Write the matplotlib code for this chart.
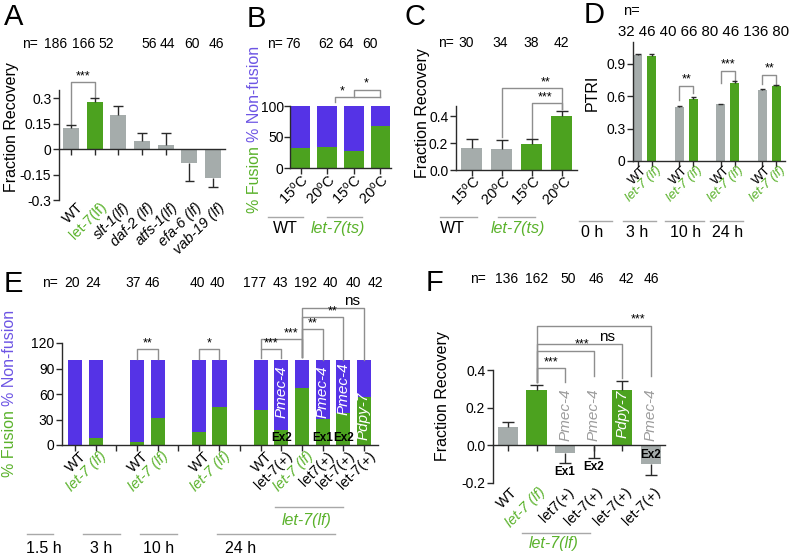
import matplotlib
matplotlib.use('Agg')
import matplotlib.pyplot as plt
import matplotlib.transforms as mtransforms
from matplotlib.lines import Line2D

plt.rcParams['font.family'] = ['Liberation Sans', 'DejaVu Sans']
plt.rcParams['mathtext.fontset'] = 'custom'
plt.rcParams['mathtext.rm'] = 'Liberation Sans'
plt.rcParams['mathtext.it'] = 'Liberation Sans:italic'
plt.rcParams['font.size'] = 10

# ---------------- datos ----------------
# A: Fraction Recovery
a_labels = ['WT', 'let-7(lf)', 'slt-1(lf)', 'daf-2 (lf)', 'atfs-1(lf)', 'efa-6 (lf)', 'vab-19 (lf)']
a_vals = [0.125, 0.28, 0.20, 0.05, 0.025, -0.08, -0.17]
a_err = [0.017, 0.02, 0.055, 0.045, 0.07, 0.11, 0.055]
a_n = [186, 166, 52, 56, 44, 60, 46]

# B: % fusion (let-7(ts))
b_labels = [r'15$^{\rm o}$C', r'20$^{\rm o}$C', r'15$^{\rm o}$C', r'20$^{\rm o}$C']
b_fusion = [32, 34, 28, 68]
b_n = [76, 62, 64, 60]

# C: Fraction Recovery (let-7(ts))
c_labels = b_labels
c_vals = [0.16, 0.155, 0.19, 0.40]
c_err = [0.07, 0.065, 0.04, 0.035]
c_n = [30, 34, 38, 42]

# D: PTRI
d_labels = ['WT', 'let-7 (lf)'] * 4
d_vals = [0.98, 0.97, 0.50, 0.575, 0.525, 0.72, 0.655, 0.69]
d_err = [0.01, 0.015, 0.01, 0.015, 0.006, 0.015, 0.01, 0.012]
d_n = [32, 46, 40, 66, 80, 46, 136, 80]
d_times = ['0 h', '3 h', '10 h', '24 h']

# E: % fusion
e_labels = ['WT', 'let-7 (lf)', 'WT', 'let-7 (lf)', 'WT', 'let-7 (lf)',
            'WT', 'let-7(+)', 'let-7 (lf)', 'let7(+)', 'let-7(+)', 'let-7(+)']
e_fusion = [0, 8, 3.5, 32, 15, 45, 41, 17.5, 67, 30.5, 37.5, 56]
e_n = [20, 24, 37, 46, 40, 40, 177, 43, 192, 40, 40, 42]
e_times = ['1.5 h', '3 h', '10 h', '24 h']

# F: Fraction Recovery
f_labels = ['WT', 'let-7 (lf)', 'let7(+)', 'let-7(+)', 'let-7(+)', 'let-7(+)']
f_vals = [0.10, 0.295, -0.04, -0.003, 0.295, -0.10]
f_err = [0.025, 0.025, 0.055, 0.062, 0.045, 0.06]
f_n = [136, 162, 50, 46, 42, 46]

# ---------------- estilo ----------------
GREEN = '#4ca21f'
GREEN_TXT = '#5ab22b'
PURPLE = '#5533e6'
PURPLE_TXT = '#6d55e4'
GRAY = '#a5acab'
BRK = '#8e8e8e'
LGRAY = '#a8a8a8'
DARK = '#2a2a2a'

W, H = 800, 557
fig = plt.figure(figsize=(8, 5.57), dpi=100)


def px_axes(l, t, r, b):
    return fig.add_axes([l / W, 1 - b / H, (r - l) / W, (b - t) / H])


def ftext(x, y, s, **kw):
    return fig.text(x / W, 1 - y / H, s, **kw)


def fline(x0, x1, y, color=LGRAY):
    fig.add_artist(Line2D([x0 / W, x1 / W], [1 - y / H] * 2,
                          transform=fig.transFigure, color=color, lw=1))


def base_axes(ax, xlim, ylim, zero=False, pad=1.5):
    ax.set_xlim(*xlim)
    ax.set_ylim(*ylim)
    ax.spines['top'].set_visible(False)
    ax.spines['right'].set_visible(False)
    for s in ('left', 'bottom'):
        ax.spines[s].set_color(DARK)
        ax.spines[s].set_linewidth(1)
    if zero:
        ax.spines['bottom'].set_position(('data', 0))
    ax.tick_params(length=4, width=1, color=DARK, pad=pad, labelsize=10)
    ax.tick_params(axis='x', labelbottom=False)
    ax.patch.set_alpha(0)


def bars_err(ax, xs, vals, errs, colors, width):
    ax.bar(xs, vals, width=width, color=colors, zorder=2)
    ends = [v + e if v >= 0 else v - e for v, e in zip(vals, errs)]
    cw = width * 0.3
    ax.vlines(xs, vals, ends, color=DARK, lw=1, zorder=3)
    ax.hlines(ends, [x - cw for x in xs], [x + cw for x in xs], color=DARK, lw=1, zorder=3)


def stacked(ax, xs, fusion, width):
    ax.bar(xs, fusion, width=width, color=GREEN, zorder=2)
    ax.bar(xs, [100 - f for f in fusion], width=width, bottom=fusion, color=PURPLE, zorder=2)


def rot_labels(ax, xs, labels, colors, styles, fs=10.5, dx=2, dy=3):
    base = mtransforms.blended_transform_factory(ax.transData, ax.transAxes)
    tr = mtransforms.offset_copy(base, fig=fig, x=dx, y=-dy, units='dots')
    for x, s, c, st in zip(xs, labels, colors, styles):
        ax.text(x, 0, s, transform=tr, rotation=45, rotation_mode='anchor',
                ha='right', va='top', color=c, style=st, fontsize=fs, clip_on=False)


def bracket(ax, x1, x2, ytop, yl, yr, label, lx=None, fs=9):
    ax.plot([x1, x1, x2, x2], [yl, ytop, ytop, yr], color=BRK, lw=1, clip_on=False)
    if lx is None:
        lx = (x1 + x2) / 2
    ax.text(lx, ytop, label, ha='center', va='bottom', fontsize=fs, clip_on=False)


def two_color_ylabel(x, y_start, fs=11.5):
    r = fig.canvas.get_renderer()
    t1 = ftext(x, y_start, '% Fusion', rotation=90, ha='center', va='bottom',
               color=GREEN_TXT, fontsize=fs)
    bb = t1.get_window_extent(r)
    fig.text(x / W, (bb.y1 + 4) / H, '% Non-fusion', rotation=90, ha='center',
             va='bottom', color=PURPLE_TXT, fontsize=fs)


def n_row(x_n, y, xs, ns, fs=10):
    ftext(x_n, y, 'n=', ha='left', va='baseline', fontsize=fs)
    for x, n in zip(xs, ns):
        ftext(x, y, str(n), ha='center', va='baseline', fontsize=fs)


EX_FONT = dict(fontsize=8.5, fontweight='bold', color='black')

PANEL_FS = 21
for lab, x, y in [('A', 4, 25), ('B', 247, 27), ('C', 404, 25), ('D', 584, 23),
                  ('E', 4, 292), ('F', 426, 291)]:
    ftext(x, y, lab, ha='left', va='baseline', fontsize=PANEL_FS)

# ---------------- A ----------------
ax = px_axes(59, 90, 225, 200)
xa = list(range(len(a_vals)))
base_axes(ax, (-0.5, 6.5), (-0.3, 0.35), zero=True)
bars_err(ax, xa, a_vals, a_err, [GREEN if i == 1 else GRAY for i in xa], 0.68)
ax.set_xticks(xa)
ax.set_yticks([-0.3, -0.15, 0, 0.15, 0.3])
ax.set_yticklabels(['-0.3', '-0.15', '0', '0.15', '0.3'])
rot_labels(ax, xa, a_labels, ['black', GREEN_TXT] + ['black'] * 5,
           ['normal', 'normal'] + ['italic'] * 5, dx=5, dy=0)
bracket(ax, 0, 1, 0.395, 0.145, 0.31, '***')
ftext(12, 127, 'Fraction Recovery', rotation=90, ha='center', va='center', fontsize=11.5)
n_row(22, 48, [56, 84, 106, 149, 167, 192, 216], a_n)

# ---------------- B ----------------
ax = px_axes(290, 106, 391, 168)
xb = list(range(len(b_fusion)))
base_axes(ax, (-0.4, 3.4), (0, 100), pad=0.5)
stacked(ax, xb, b_fusion, 0.74)
ax.set_xticks(xb)
ax.set_yticks([0, 50, 100])
rot_labels(ax, xb, b_labels, ['black'] * 4, ['normal'] * 4, dx=0, dy=4)
bracket(ax, 1.3, 3, 114.5, 106, 114.5, '*', lx=1.58)
bracket(ax, 2, 3, 126, 114.5, 114.5, '*', lx=2.48)
two_color_ylabel(255, 213)
n_row(267, 48, [293, 326, 346, 370], b_n)
fline(268, 303, 217)
fline(327, 362, 217)
ftext(285, 233, 'WT', ha='center', va='baseline', fontsize=11.5)
ftext(338, 233, 'let-7(ts)', ha='center', va='baseline', fontsize=11.5,
      color=GREEN_TXT, style='italic')

# ---------------- C ----------------
ax = px_axes(456, 106, 577, 170)
xc = list(range(len(c_vals)))
base_axes(ax, (-0.53, 3.5), (0, 0.475))
bars_err(ax, xc, c_vals, c_err, [GRAY, GRAY, GREEN, GREEN], 0.7)
ax.set_xticks(xc)
ax.set_yticks([0, 0.2, 0.4])
ax.set_yticklabels(['0.0', '0.2', '0.4'])
rot_labels(ax, xc, c_labels, ['black'] * 4, ['normal'] * 4, dx=1, dy=3)
bracket(ax, 1, 3, 0.607, 0.244, 0.45, '**', lx=2.45)
bracket(ax, 2, 3, 0.496, 0.24, 0.45, '***', lx=2.45)
ftext(422, 113, 'Fraction Recovery', rotation=90, ha='center', va='center', fontsize=11.5)
n_row(438, 47, [466, 500, 531, 561], c_n)
fline(440, 477, 217)
fline(498, 535, 217)
ftext(452, 233, 'WT', ha='center', va='baseline', fontsize=11.5)
ftext(518, 233, 'let-7(ts)', ha='center', va='baseline', fontsize=11.5,
      color=GREEN_TXT, style='italic')

# ---------------- D ----------------
ax = px_axes(633, 42, 785, 161)
xd = [0, 1, 3, 4, 6, 7, 9, 10]
base_axes(ax, (-0.36, 10.65), (0, 1.1))
bars_err(ax, xd, d_vals, d_err, [GRAY, GREEN] * 4, 0.65)
ax.set_xticks(xd)
ax.set_yticks([0, 0.3, 0.6, 0.9])
ax.set_yticklabels(['0', '0.3', '0.6', '0.9'])
rot_labels(ax, xd, d_labels, ['black', GREEN_TXT] * 4, ['normal', 'italic'] * 4,
           fs=9.5, dx=3, dy=3)
bracket(ax, 3, 4, 0.697, 0.56, 0.624, '**')
bracket(ax, 6, 7, 0.835, 0.725, 0.74, '***')
bracket(ax, 9, 10, 0.798, 0.716, 0.716, '**')
ftext(592, 93, 'PTRI', rotation=90, ha='center', va='center', fontsize=11.5)
ftext(623, 15, 'n=', ha='left', va='baseline', fontsize=10.5)
ftext(618, 36, ' '.join(str(n) for n in d_n), ha='left', va='baseline', fontsize=10.8)
for (x0, x1), xt, t in zip([(579, 612), (623, 656), (665, 704), (710, 743)],
                           [592, 637, 686, 728], d_times):
    fline(x0, x1, 221)
    ftext(xt, 237, t, ha='center', va='baseline', fontsize=11.5)

# ---------------- E ----------------
ax = px_axes(62, 343, 378, 445)
xe = [0, 1, 3, 4, 6, 7, 9, 10, 11, 12, 13, 14]
base_axes(ax, (-0.63, 14.68), (0, 120))
stacked(ax, xe, e_fusion, 0.68)
ax.set_xticks(range(15))
ax.set_yticks([0, 30, 60, 90, 120])
e_col = [GREEN_TXT if 'lf' in s else 'black' for s in e_labels]
e_sty = ['italic' if 'lf' in s else 'normal' for s in e_labels]
rot_labels(ax, xe, e_labels, e_col, e_sty, dx=4, dy=4)
bracket(ax, 3, 4, 113, 101, 101, '**')
bracket(ax, 6, 7, 113, 101, 101, '*')
bracket(ax, 9, 10, 113, 102, 102, '***')
bracket(ax, 9, 11, 124.7, 113, 103.5, '***', lx=10.45)
bracket(ax, 11, 12, 136.5, 103.5, 100, '**', lx=11.5)
bracket(ax, 11, 13, 150.6, 103.5, 100, '**', lx=12.5)
bracket(ax, 11, 14, 161, 103.5, 100, 'ns', lx=13.4, fs=11)
for x, s, y in [(10, 'Pmec-4', 63), (12, 'Pmec-4', 63), (13, 'Pmec-4', 66), (14, 'Pdpy-7', 34)]:
    ax.text(x, y, s, rotation=90, ha='center', va='center', color='white',
            style='italic', fontsize=11, zorder=4)
for x, s in [(10, 'Ex2'), (12, 'Ex1'), (13, 'Ex2')]:
    ax.text(x, 8, s, ha='center', va='center', zorder=4, **EX_FONT)
two_color_ylabel(10, 477)
n_row(42, 287, [72, 93, 133, 152, 197, 217, 255, 280, 306, 330, 353, 375], e_n)
for (x0, x1), xt, t in zip([(27, 53), (83, 120), (140, 177), (217, 335)],
                           [44, 101, 159, 241], e_times):
    fline(x0, x1, 534)
    ftext(xt, 553, t, ha='center', va='baseline', fontsize=11.5)
fline(275, 343, 507)
ftext(307, 525, 'let-7(lf)', ha='center', va='baseline', fontsize=11.5,
      color=GREEN_TXT, style='italic')

# ---------------- F ----------------
ax = px_axes(493, 370, 665, 483)
xf = list(range(len(f_vals)))
base_axes(ax, (-0.52, 5.49), (-0.2, 0.4), zero=True)
bars_err(ax, xf, f_vals, f_err, [GRAY, GREEN, GRAY, GRAY, GREEN, GRAY], 0.7)
ax.set_xticks(xf)
ax.set_yticks([-0.2, 0, 0.2, 0.4])
ax.set_yticklabels(['-0.2', '0.0', '0.2', '0.4'])
f_col = [GREEN_TXT if 'lf' in s else 'black' for s in f_labels]
f_sty = ['italic' if 'lf' in s else 'normal' for s in f_labels]
rot_labels(ax, xf, f_labels, f_col, f_sty, dx=2, dy=2)
bracket(ax, 1, 5, 0.636, 0.334, 0.366, '***', lx=4.56)
bracket(ax, 1, 4, 0.54, 0.334, 0.36, 'ns', lx=3.48, fs=11)
bracket(ax, 1, 3, 0.503, 0.334, 0.366, '***', lx=2.58)
bracket(ax, 1, 2, 0.408, 0.334, 0.335, '***', lx=1.5)
for x, s, c in [(2, 'Pmec-4', '#9c9c9c'), (3, 'Pmec-4', '#9c9c9c'),
                (4, 'Pdpy-7', 'white'), (5, 'Pmec-4', '#9c9c9c')]:
    ax.text(x, 0.165, s, rotation=90, ha='center', va='center', color=c,
            style='italic', fontsize=11, zorder=4)
for x, s, y in [(2, 'Ex1', -0.143), (3, 'Ex2', -0.117), (5, 'Ex2', -0.053)]:
    ax.text(x, y, s, ha='center', va='center', zorder=4, **EX_FONT)
ftext(442, 396, 'Fraction Recovery', rotation=90, ha='center', va='center', fontsize=11.5)
n_row(470, 283, [507, 537, 568, 596, 626, 651], f_n)
fline(522, 590, 533)
ftext(554, 548, 'let-7(lf)', ha='center', va='baseline', fontsize=11.5,
      color=GREEN_TXT, style='italic')

fig.savefig('out.png', dpi=100)
